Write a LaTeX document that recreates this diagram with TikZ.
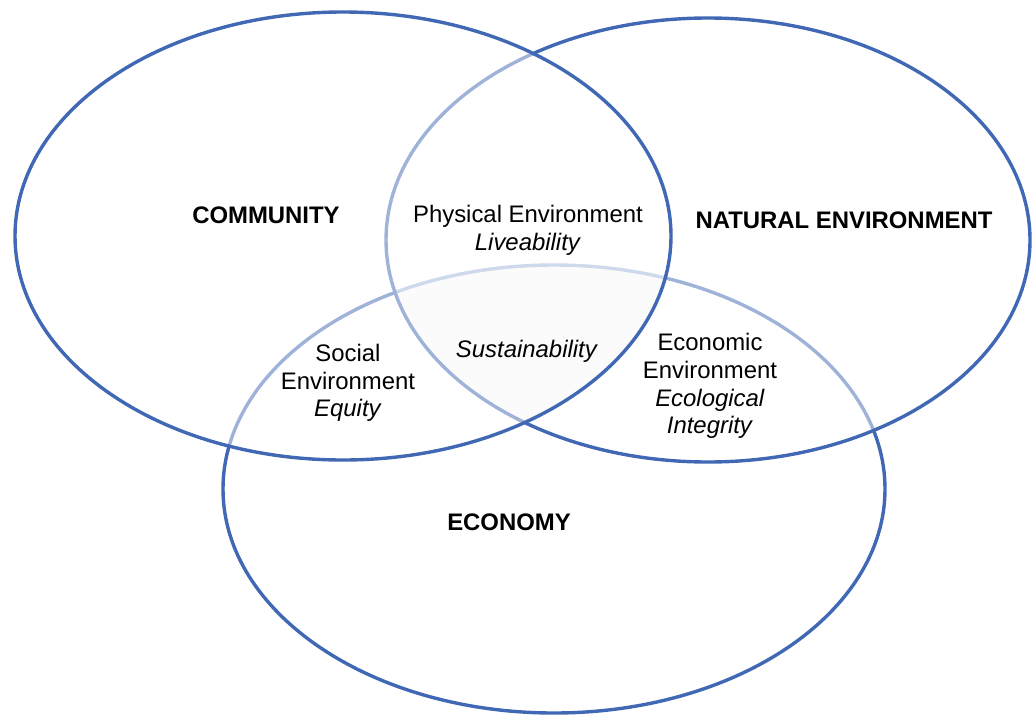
\documentclass[tikz,border=0pt]{standalone}
\usepackage{fontspec}
\setmainfont{Liberation Sans}
\definecolor{vennblue}{RGB}{64,104,180}
\begin{document}
\begin{tikzpicture}[x=1pt,y=-1pt,
  venn/.style={line width=3.4pt, draw=vennblue},
  veil/.style={fill=white, fill opacity=0.5},
  lbl/.style={font=\fontsize{23.9}{27.8}\selectfont, align=center, inner sep=0pt, text=black},
  head/.style={font=\fontsize{23.9}{27.8}\selectfont\bfseries, inner sep=0pt, anchor=base, text=black}]
\useasboundingbox (0,0) rectangle (1035,715);
% faint tint of the common centre
\begin{scope}
  \clip (343,236) ellipse [x radius=328pt, y radius=224pt];
  \clip (708,240) ellipse [x radius=322pt, y radius=222pt];
  \fill[black!5] (554,489) ellipse [x radius=331pt, y radius=224pt];
\end{scope}
% ECONOMY circle (bottom)
\draw[venn] (554,489) ellipse [x radius=331pt, y radius=224pt];
% NATURAL ENVIRONMENT circle (right)
\path[veil] (708,240) ellipse [x radius=322pt, y radius=222pt];
\draw[venn] (708,240) ellipse [x radius=322pt, y radius=222pt];
% COMMUNITY circle (left)
\path[veil] (343,236) ellipse [x radius=328pt, y radius=224pt];
\draw[venn] (343,236) ellipse [x radius=328pt, y radius=224pt];
% labels
\node[head] (community) at (266,223) {COMMUNITY};
\node[head] (natural) at (844,228) {NATURAL ENVIRONMENT};
\node[head] (economy) at (509,530) {ECONOMY};
\node[lbl] (physical) at (528,230) {Physical Environment\\\textit{Liveability}};
\node[lbl, anchor=base] (sustain) at (527,357) {\textit{Sustainability}};
\node[lbl] (social) at (348,383) {Social\\Environment\\\textit{Equity}};
\node[lbl] (economic) at (710,386) {Economic\\Environment\\\textit{Ecological}\\\textit{Integrity}};
\end{tikzpicture}
\end{document}
